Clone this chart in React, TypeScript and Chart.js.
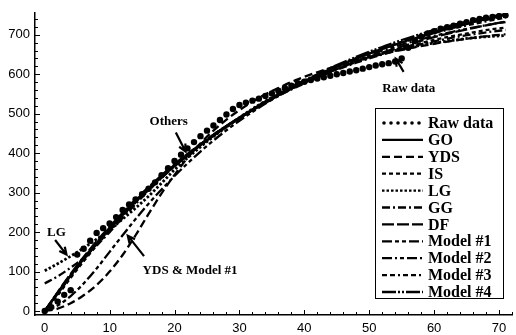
import { useEffect, useRef } from 'react';
import { Chart, registerables } from 'chart.js';

Chart.register(...registerables);

// ---- data ----
const rawWeeks = [
  0, 1, 2, 3, 4, 5, 6, 7, 8, 9, 10, 11, 12, 13, 14, 15, 16, 17, 18, 19, 20, 21, 22, 23,
  24, 25, 26, 27, 28, 29, 30, 31, 32, 33, 34, 35, 36, 37, 38, 39, 40, 41, 42, 43, 44, 45, 46, 47,
  48, 49, 50, 51, 52, 53, 54, 55, 56, 57, 58, 59, 60, 61, 62, 63, 64, 65, 66, 67, 68, 69, 70, 71,
];
const rawFailures = [
  0, 10, 24, 41, 53, 143, 158, 178, 198, 210, 222, 238, 256, 270, 283, 296, 310, 326, 344, 362, 380, 396, 412, 428,
  443, 457, 470, 484, 498, 512, 522, 528, 533, 538, 545, 551, 558, 565, 571, 577, 581, 585, 589, 592, 596, 600, 603, 607,
  610, 614, 618, 622, 625, 628, 632, 640, 667, 684, 695, 703, 709, 715, 719, 723, 728, 732, 737, 740, 743, 745, 747, 749,
];

const modelWeeks = [0, 2, 4, 6, 8, 10, 12, 14, 16, 18, 20, 22, 24, 26, 28, 30, 33, 36, 39, 42, 45, 48, 51, 54, 57, 60, 63, 66, 69, 71];
const goValues = [0, 46, 90, 132, 171, 208, 243, 277, 309, 339, 367, 394, 420, 444, 467, 488, 519, 547, 573, 597, 619, 639, 658, 675, 691, 706, 719, 732, 743, 751];
const ydsValues = [0, 6, 20, 40, 66, 100, 142, 192, 246, 298, 345, 388, 425, 457, 485, 509, 540, 565, 587, 605, 621, 635, 647, 658, 668, 677, 685, 692, 698, 701];
const isValues = [0, 40, 84, 126, 166, 204, 240, 275, 307, 338, 367, 394, 420, 444, 467, 489, 519, 546, 571, 593, 613, 631, 647, 662, 675, 687, 697, 706, 714, 718];
const lgValues = [102, 120, 139, 160, 182, 206, 233, 261, 291, 324, 358, 388, 416, 442, 466, 490, 522, 550, 575, 597, 617, 634, 648, 660, 670, 679, 686, 692, 696, 698];
const ggValues = [70, 88, 110, 135, 166, 200, 236, 271, 305, 337, 367, 395, 421, 445, 468, 489, 518, 545, 569, 591, 611, 629, 645, 659, 672, 683, 693, 701, 708, 712];
const dfValues = [0, 48, 94, 137, 177, 214, 249, 283, 314, 344, 372, 398, 423, 447, 469, 490, 520, 547, 571, 593, 613, 632, 649, 665, 680, 694, 706, 717, 727, 732];
const model1Values = [0, 14, 38, 70, 108, 150, 192, 233, 272, 308, 342, 374, 404, 432, 458, 482, 515, 545, 572, 597, 620, 641, 660, 677, 693, 707, 720, 731, 741, 747];
const model2Values = [0, 44, 88, 130, 170, 207, 243, 277, 309, 340, 369, 396, 422, 446, 469, 490, 521, 549, 574, 597, 618, 637, 654, 670, 684, 697, 708, 718, 727, 733];
const model3Values = [0, 45, 89, 131, 170, 208, 244, 278, 310, 341, 369, 396, 421, 445, 468, 489, 520, 548, 574, 598, 620, 640, 658, 675, 690, 704, 716, 727, 737, 743];
const model4Values = [0, 47, 92, 134, 174, 211, 246, 280, 312, 342, 370, 397, 422, 446, 469, 490, 521, 549, 576, 600, 623, 644, 663, 681, 697, 712, 725, 737, 747, 752];

const seriesNames = ['Raw data', 'GO', 'YDS', 'IS', 'LG', 'GG', 'DF', 'Model #1', 'Model #2', 'Model #3', 'Model #4'];
const modelSeries = [goValues, ydsValues, isValues, lgValues, ggValues, dfValues, model1Values, model2Values, model3Values, model4Values];

const xTickLabels = [0, 10, 20, 30, 40, 50, 60, 70];
const yTickLabels = [0, 100, 200, 300, 400, 500, 600, 700];

// ---- styles ----
const dashes: number[][] = [
  [],                       // GO
  [8, 4],                   // YDS
  [4, 3],                   // IS
  [2.5, 2],                 // LG
  [8, 3, 2, 3],             // GG
  [12, 3],                  // DF
  [10, 3, 4, 3, 4, 3],      // Model #1
  [10, 3, 2, 3, 4, 3],      // Model #2
  [5, 3, 5, 3, 2, 3],       // Model #3
  [14, 2, 2, 2, 2, 2],      // Model #4
];
const widths = [2.3, 2.3, 2.3, 2.8, 2.3, 2.3, 2.3, 2.3, 2.3, 2.3];

const annotations = [
  { text: 'LG', tx: 1.8, ty: 198, from: [1.6, 180], to: [3.35, 143] },
  { text: 'YDS & Model #1', tx: 22.4, ty: 103, from: [15.3, 139], to: [12.8, 191] },
  { text: 'Others', tx: 19.1, ty: 481, from: [20.2, 452], to: [21.7, 404] },
  { text: 'Raw data', tx: 56.1, ty: 564, from: [55.3, 606], to: [54.1, 639] },
];

const serif = '"Liberation Serif", "Times New Roman", serif';
const sans = '"Liberation Sans", Arial, sans-serif';

const decorPlugin = {
  id: 'decor',
  afterDatasetsDraw(chart: any) {
    const { ctx, chartArea, scales } = chart;
    const x = scales.x;
    const y = scales.y;
    ctx.save();
    // inward tick marks
    ctx.strokeStyle = '#000';
    ctx.lineWidth = 1;
    ctx.setLineDash([]);
    for (let v = 0; v <= 72; v += 2) {
      const px = Math.round(x.getPixelForValue(v)) + 0.5;
      const len = v % 10 === 0 ? 5 : 3;
      ctx.beginPath();
      ctx.moveTo(px, chartArea.bottom);
      ctx.lineTo(px, chartArea.bottom - len);
      ctx.stroke();
    }
    for (let v = 0; v <= 740; v += 20) {
      const py = Math.round(y.getPixelForValue(v)) + 0.5;
      const len = v % 100 === 0 ? 5 : 3;
      ctx.beginPath();
      ctx.moveTo(chartArea.left, py);
      ctx.lineTo(chartArea.left + len, py);
      ctx.stroke();
    }

    // annotations
    ctx.fillStyle = '#000';
    ctx.font = `bold 13px ${serif}`;
    ctx.textAlign = 'center';
    ctx.textBaseline = 'middle';
    for (const a of annotations) {
      ctx.fillText(a.text, x.getPixelForValue(a.tx), y.getPixelForValue(a.ty));
      const x0 = x.getPixelForValue(a.from[0]);
      const y0 = y.getPixelForValue(a.from[1]);
      const x1 = x.getPixelForValue(a.to[0]);
      const y1 = y.getPixelForValue(a.to[1]);
      ctx.lineWidth = 2.2;
      ctx.beginPath();
      ctx.moveTo(x0, y0);
      ctx.lineTo(x1, y1);
      const ang = Math.atan2(y1 - y0, x1 - x0);
      const hl = 8;
      ctx.moveTo(x1 - hl * Math.cos(ang - 0.45), y1 - hl * Math.sin(ang - 0.45));
      ctx.lineTo(x1, y1);
      ctx.lineTo(x1 - hl * Math.cos(ang + 0.45), y1 - hl * Math.sin(ang + 0.45));
      ctx.stroke();
    }

    // legend box
    const bx = 375, by = 108, bw = 128, bh = 190;
    ctx.fillStyle = '#fff';
    ctx.fillRect(bx, by, bw, bh);
    ctx.strokeStyle = '#000';
    ctx.lineWidth = 1;
    ctx.strokeRect(bx + 0.5, by + 0.5, bw, bh);
    const rowH = 16.9;
    const row0 = 123;
    ctx.font = `bold 16px ${serif}`;
    ctx.textAlign = 'left';
    ctx.textBaseline = 'middle';
    chart.data.datasets.forEach((ds: any, i: number) => {
      const cy = row0 + i * rowH;
      ctx.strokeStyle = '#000';
      ctx.fillStyle = '#000';
      if (i === 0) {
        for (let k = 0; k < 6; k++) {
          ctx.beginPath();
          ctx.arc(384 + k * 7, cy, 1.8, 0, Math.PI * 2);
          ctx.fill();
        }
      } else {
        ctx.lineWidth = Math.min(ds.borderWidth, 2.3);
        ctx.setLineDash(ds.borderDash || []);
        ctx.beginPath();
        ctx.moveTo(382, cy);
        ctx.lineTo(423, cy);
        ctx.stroke();
        ctx.setLineDash([]);
      }
      ctx.fillText(ds.label, 428, cy + 1);
    });
    ctx.restore();
  },
};

export default function App() {
  const canvasRef = useRef<HTMLCanvasElement | null>(null);

  useEffect(() => {
    document.body.style.margin = '0';
    const canvas = canvasRef.current;
    if (!canvas) return;

    const datasets: any[] = [
      {
        label: seriesNames[0],
        data: rawWeeks.map((t, i) => ({ x: t, y: rawFailures[i] })),
        showLine: false,
        pointRadius: 3.2,
        pointBackgroundColor: '#000',
        pointBorderColor: '#000',
        pointBorderWidth: 0,
        borderColor: '#000',
      },
      ...modelSeries.map((vals, j) => ({
        label: seriesNames[j + 1],
        data: modelWeeks.map((t, i) => ({ x: t, y: vals[i] })),
        borderColor: '#000',
        borderWidth: widths[j],
        borderDash: dashes[j],
        pointRadius: 0,
        fill: false,
        cubicInterpolationMode: 'monotone',
      })),
    ];

    const chart = new Chart(canvas, {
      type: 'line',
      data: { datasets },
      options: {
        animation: false,
        responsive: true,
        maintainAspectRatio: false,
        layout: { padding: { top: 13, right: 0, left: 0, bottom: 0 } },
        plugins: { legend: { display: false }, tooltip: { enabled: false } },
        scales: {
          x: {
            type: 'linear',
            min: -1.5,
            max: 72,
            grid: { display: false, drawTicks: false },
            border: { display: true, color: '#000', width: 1.5 },
            ticks: {
              color: '#000',
              font: { family: sans, size: 13 },
              padding: 6,
              maxRotation: 0,
              autoSkip: false,
            },
            afterBuildTicks: (s: any) => {
              s.ticks = xTickLabels.map((v) => ({ value: v }));
            },
            afterFit: (s: any) => {
              s.height = 20;
            },
          },
          y: {
            type: 'linear',
            min: -10,
            max: 755,
            grid: { display: false, drawTicks: false },
            border: { display: true, color: '#000', width: 1.5 },
            ticks: {
              color: '#000',
              font: { family: sans, size: 13 },
              padding: 5,
              autoSkip: false,
            },
            afterBuildTicks: (s: any) => {
              s.ticks = yTickLabels.map((v) => ({ value: v }));
            },
            afterFit: (s: any) => {
              s.width = 35;
            },
          },
        },
      } as any,
      plugins: [decorPlugin],
    });

    return () => chart.destroy();
  }, []);

  return (
    <div style={{ width: 516, height: 335, position: 'relative', background: '#fff' }}>
      <canvas ref={canvasRef} />
    </div>
  );
}
